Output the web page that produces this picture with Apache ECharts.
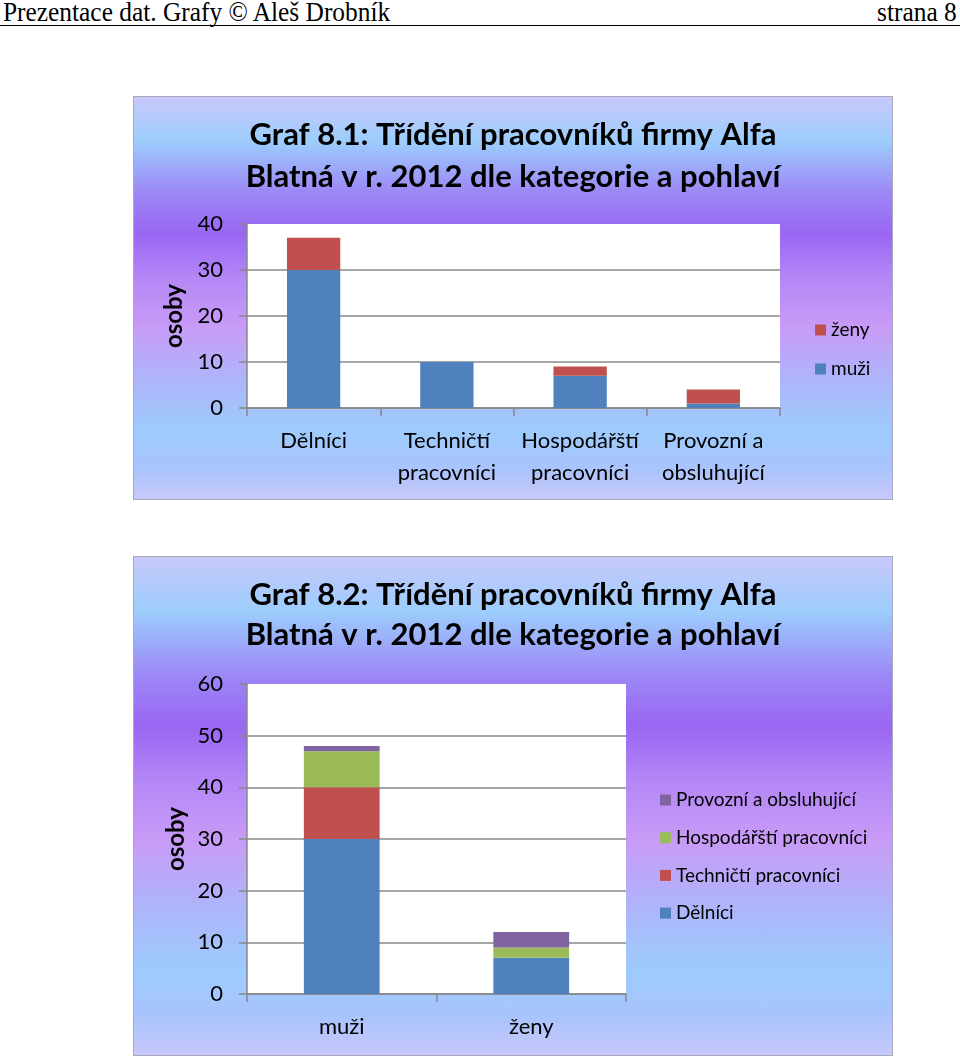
<!DOCTYPE html>
<html>
<head>
<meta charset="utf-8">
<script src="https://cdn.jsdelivr.net/npm/echarts@6/dist/echarts.min.js"></script>
<style>
  html, body { margin: 0; padding: 0; background: #fff; }
  body { width: 960px; height: 1062px; position: relative; overflow: hidden; }
  #hdr { position: absolute; left: 0; top: 0; width: 960px; height: 25px; border-bottom: 1px solid #000;
         font-family: "Liberation Serif", "DejaVu Serif", serif; font-size: 27px; line-height: 25px; color: #000; }
  #hdr .l { position: absolute; left: 3px; top: 0; transform: scaleX(0.94); transform-origin: left top; white-space: nowrap; }
  #hdr .r { position: absolute; right: 3px; top: 0; transform: scaleX(0.94); transform-origin: right top; white-space: nowrap; }
  .panel { position: absolute; left: 133px; width: 760px; box-sizing: border-box; border: 1px solid #a9a9b9;
           background: linear-gradient(to bottom, #c8c8fb 0%, #9ccdfc 11%, #9c86f6 24%, #9a66f3 34%, #b487f6 45%, #c89bf7 57%, #b0b2fa 69%, #9dcbfc 83%, #a8c4fc 92%, #c8c8fb 100%); }
  #p1 { top: 96px; height: 404px; }
  #p2 { top: 556px; height: 500px; }
</style>
</head>
<body>
<div id="hdr"><span class="l">Prezentace dat. Grafy © Aleš Drobník</span><span class="r">strana 8</span></div>
<div id="p1" class="panel"></div>
<div id="p2" class="panel"></div>
<script>
// ---- data ----
const title1 = "Graf 8.1: Třídění pracovníků firmy Alfa\nBlatná v r. 2012 dle kategorie a pohlaví";
const title2 = "Graf 8.2: Třídění pracovníků firmy Alfa\nBlatná v r. 2012 dle kategorie a pohlaví";
const categories = ["Dělníci", "Techničtí\npracovníci", "Hospodářští\npracovníci", "Provozní a\nobsluhující"];
const categoryNames = ["Dělníci", "Techničtí pracovníci", "Hospodářští pracovníci", "Provozní a obsluhující"];
const genders = ["muži", "ženy"];
const muzi = [30, 10, 7, 1];
const zeny = [7, 0, 2, 3];
const yTicks1 = [0, 10, 20, 30, 40];
const yTicks2 = [0, 10, 20, 30, 40, 50, 60];
const yName = "osoby";

const catColors = ["#4F81BD", "#C0504D", "#9BBB59", "#8064A2"];
const FONT = "Lato, 'Open Sans', sans-serif";
const GRID = "#888888";

function gridColors(n) {
  const a = [];
  for (let i = 0; i < n - 1; i++) a.push(GRID);
  a.push("rgba(0,0,0,0)");
  return a;
}

function yAxis(ticks) {
  return {
    type: "value",
    min: ticks[0], max: ticks[ticks.length - 1], interval: ticks[1] - ticks[0],
    name: yName, nameLocation: "middle", nameGap: 59,
    nameTextStyle: { fontFamily: FONT, fontWeight: "bold", fontSize: 24, color: "#000" },
    axisLine: { show: true, lineStyle: { color: GRID, width: 1.5 } },
    axisTick: { show: true, length: 8, lineStyle: { color: GRID, width: 1.5 } },
    axisLabel: { fontFamily: FONT, fontSize: 22, color: "#000", margin: 24 },
    splitLine: { show: true, lineStyle: { color: gridColors(ticks.length), width: 1.5 } }
  };
}

function xAxis(data) {
  return {
    type: "category", data: data,
    axisLine: { show: true, lineStyle: { color: GRID, width: 1.5 } },
    axisTick: { show: true, length: 8, alignWithLabel: false, lineStyle: { color: GRID, width: 1.5 } },
    axisLabel: { fontFamily: FONT, fontSize: 22, color: "#000", margin: 17, lineHeight: 32, interval: 0 }
  };
}

function titleOpt(text, top, lh) {
  return {
    text: text, left: "center", top: top,
    textStyle: { fontFamily: FONT, fontWeight: "bold", fontSize: 31, lineHeight: lh, color: "#000" }
  };
}

function legendOpt(left, top, gap, data) {
  return {
    orient: "vertical", left: left, top: top, padding: 0, itemWidth: 11, itemHeight: 11, itemGap: gap,
    icon: "rect", data: data,
    textStyle: { fontFamily: FONT, fontSize: 19, color: "#000", lineHeight: 22 }
  };
}

// ---- chart 1 ----
const c1 = echarts.init(document.getElementById("p1"), null, { renderer: "canvas" });
c1.setOption({
  animation: false,
  title: titleOpt(title1, 12, 42),
  grid: { left: 113, right: 112, top: 127, bottom: 91, backgroundColor: "#fff", show: true, borderWidth: 0 },
  legend: legendOpt(681, 222, 17, ["ženy", "muži"]),
  xAxis: xAxis(categories),
  yAxis: yAxis(yTicks1),
  series: [
    { name: "muži", type: "bar", stack: "a", barWidth: "40%", data: muzi, itemStyle: { color: catColors[0] } },
    { name: "ženy", type: "bar", stack: "a", barWidth: "40%", data: zeny, itemStyle: { color: catColors[1] } }
  ]
});

// ---- chart 2 ----
const byCategory = categoryNames.map((n, i) => [muzi[i], zeny[i]]);
const c2 = echarts.init(document.getElementById("p2"), null, { renderer: "canvas" });
c2.setOption({
  animation: false,
  title: titleOpt(title2, 13, 40),
  grid: { left: 113, right: 266, top: 127, bottom: 61, backgroundColor: "#fff", show: true, borderWidth: 0 },
  legend: legendOpt(526, 232, 15.7, categoryNames.slice().reverse()),
  xAxis: xAxis(genders),
  yAxis: yAxis(yTicks2),
  series: categoryNames.map((n, i) => ({
    name: n, type: "bar", stack: "b", barWidth: "40%", data: byCategory[i],
    itemStyle: { color: catColors[i] }
  }))
});
</script>
</body>
</html>
